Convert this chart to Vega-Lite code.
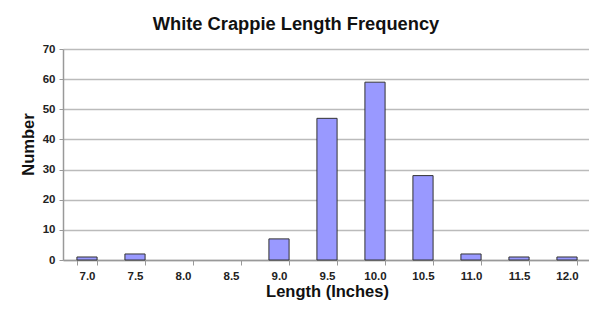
{
  "$schema": "https://vega.github.io/schema/vega-lite/v6.json",
  "width": 528,
  "height": 211,
  "autosize": {"type": "none"},
  "padding": {"left": 63, "top": 49, "right": 0, "bottom": 50},
  "background": "white",
  "title": {
    "text": "White Crappie Length Frequency",
    "font": "Liberation Sans",
    "fontSize": 18.3,
    "fontWeight": "bold",
    "color": "#111111",
    "anchor": "middle",
    "dx": -31,
    "offset": 9
  },
  "data": {
    "values": [
      {"length": "7.0", "count": 1},
      {"length": "7.5", "count": 2},
      {"length": "8.0", "count": 0},
      {"length": "8.5", "count": 0},
      {"length": "9.0", "count": 7},
      {"length": "9.5", "count": 47},
      {"length": "10.0", "count": 59},
      {"length": "10.5", "count": 28},
      {"length": "11.0", "count": 2},
      {"length": "11.5", "count": 1},
      {"length": "12.0", "count": 1}
    ]
  },
  "mark": {"type": "bar", "color": "#9999ff", "stroke": "#333333", "strokeWidth": 1},
  "encoding": {
    "x": {
      "field": "length",
      "type": "ordinal",
      "sort": null,
      "scale": {"paddingInner": 0.58, "paddingOuter": 0.29},
      "axis": {
        "title": "Length (Inches)",
        "titleFont": "Liberation Sans",
        "titleFontSize": 16.5,
        "titleFontWeight": "bold",
        "titleColor": "#111111",
        "titlePadding": 2,
        "labelFont": "Liberation Sans",
        "labelFontSize": 11.5,
        "labelFontWeight": "bold",
        "labelColor": "#222222",
        "labelAngle": 0,
        "labelPadding": 5,
        "domainColor": "#999999",
        "domainWidth": 1.5,
        "tickColor": "#999999",
        "tickSize": 5,
        "tickBand": "extent",
        "grid": false
      }
    },
    "y": {
      "field": "count",
      "type": "quantitative",
      "scale": {"domain": [0, 70], "nice": false},
      "axis": {
        "title": "Number",
        "values": [0, 10, 20, 30, 40, 50, 60, 70],
        "titleFont": "Liberation Sans",
        "titleFontSize": 16.5,
        "titleFontWeight": "bold",
        "titleColor": "#111111",
        "titlePadding": 6,
        "titleY": 95,
        "labelFont": "Liberation Sans",
        "labelFontSize": 11.5,
        "labelFontWeight": "bold",
        "labelColor": "#222222",
        "labelPadding": 4,
        "domainColor": "#999999",
        "domainWidth": 1.5,
        "tickColor": "#999999",
        "tickSize": 4,
        "gridColor": "#bbbbbb",
        "gridWidth": 1.5
      }
    },
    "strokeOpacity": {
      "condition": {"test": "datum.count === 0", "value": 0},
      "value": 1
    }
  },
  "config": {"view": {"stroke": null}}
}
